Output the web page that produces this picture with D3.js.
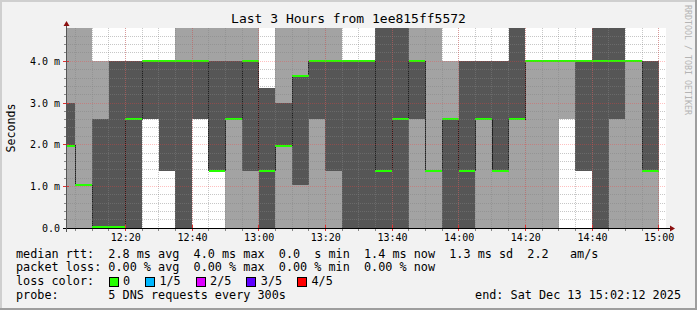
<!DOCTYPE html>
<html>
<head>
<meta charset="utf-8">
<script src="https://cdn.jsdelivr.net/npm/d3@7"></script>
<style>
body { margin: 0; background: #f2f2f2; }
svg text { font-family: "DejaVu Sans Mono", monospace; white-space: pre; }
</style>
</head>
<body>
<svg id="chart" width="697" height="310"></svg>
<script>
"use strict";

// 5 minute slots (start time) and the 5 sorted DNS ping times per slot, in ms
const slots = ["12:00", "12:05", "12:10", "12:15", "12:20", "12:25", "12:30", "12:35", "12:40", "12:45",
	"12:50", "12:55", "13:00", "13:05", "13:10", "13:15", "13:20", "13:25", "13:30", "13:35",
	"13:40", "13:45", "13:50", "13:55", "14:00", "14:05", "14:10", "14:15", "14:20", "14:25",
	"14:30", "14:35", "14:40", "14:45", "14:50", "14:55"];
const ping1 = [0, 0, 0.02, 0.02, 0, 2.61, 1.38, 0, 2.61, 1.38, 0, 0, 0, 0, 0, 0, 0, 0, 0, 0,
	0, 0, 0, 0, 0, 0, 0, 0, 0, 0, 2.61, 1.38, 0, 0, 0, 0];
const ping2 = [1.97, 1.03, 0.02, 0.02, 0, 2.61, 1.38, 0, 2.61, 1.38, 2.61, 1.38, 0, 1.97, 1.03, 2.61, 1.38, 0, 0, 0,
	0, 2.61, 1.38, 0, 0, 2.61, 1.38, 2.61, 4.0, 4.0, 4.0, 1.38, 0, 2.61, 4.0, 1.38];
const ping3 = [1.97, 1.03, 0.03, 0.03, 2.61, 4.0, 4.0, 4.0, 4.0, 1.38, 2.61, 4.0, 1.38, 1.97, 3.65, 4.0, 4.0, 4.0, 4.0, 1.38,
	2.61, 4.0, 1.38, 2.61, 1.38, 2.61, 1.38, 2.61, 4.0, 4.0, 4.0, 4.0, 4.0, 4.0, 4.0, 1.38];
const ping4 = [3.0, 1.03, 2.61, 4.0, 4.0, 4.0, 4.0, 4.0, 4.0, 4.0, 4.0, 4.0, 3.35, 3.0, 3.65, 4.0, 4.0, 4.0, 4.0, 6.0,
	6.0, 4.0, 1.38, 2.61, 4.0, 4.0, 4.0, 6.0, 4.0, 4.0, 4.0, 4.0, 6.0, 6.0, 4.0, 4.0];
const ping5 = [6.0, 6.0, 4.0, 4.0, 4.0, 4.0, 4.0, 6.0, 6.0, 6.0, 6.0, 6.0, 3.35, 6.0, 6.0, 6.0, 6.0, 4.0, 4.0, 6.0,
	6.0, 6.0, 6.0, 4.0, 4.0, 4.0, 4.0, 6.0, 4.0, 4.0, 4.0, 4.0, 6.0, 6.0, 4.0, 4.0];

const viewStart = "12:02:12";
const viewEnd = "15:02:12";
const yMax = 4.8;
const timeTicks = ["12:20", "12:40", "13:00", "13:20", "13:40", "14:00", "14:20", "14:40", "15:00"];
const valueTicks = [0, 1, 2, 3, 4];
const valueLabels = ["0.0", "1.0 m", "2.0 m", "3.0 m", "4.0 m"];

const lossLabels = ["0", "1/5", "2/5", "3/5", "4/5"];
const lossColors = ["#26ff00", "#00b8ff", "#dd00ff", "#5e00ff", "#ff0000"];

const legendRows = [
	"median rtt:  2.8 ms avg  4.0 ms max  0.0  s min  1.4 ms now  1.3 ms sd  2.2   am/s",
	"packet loss: 0.00 % avg  0.00 % max  0.00 % min  0.00 % now",
	"loss color:",
	"probe:       5 DNS requests every 300s"
];
const endLabel = "end: Sat Dec 13 15:02:12 2025";

// colours
const lightSmoke = "#a3a3a3";
const darkSmoke = "#565656";
const minorGrid = "rgba(130,130,130,0.45)";
const majorGrid = "rgba(255,60,60,0.32)";

const svg = d3.select("#chart");
const W = 697, H = 310;
const plot = {left: 66, right: 666, top: 28, bottom: 228};

const parseHMS = d3.timeParse("%H:%M:%S");
const parseHM = d3.timeParse("%H:%M");

const x = d3.scaleTime()
	.domain([parseHMS(viewStart), parseHMS(viewEnd)])
	.range([plot.left, plot.right]);
const y = d3.scaleLinear()
	.domain([0, yMax])
	.range([plot.bottom, plot.top]);

const rows = slots.map((s, i) => {
	const t0 = parseHM(s);
	return {t0, t1: d3.timeMinute.offset(t0, 5), p: [ping1[i], ping2[i], ping3[i], ping4[i], ping5[i]]};
});

// background + 3d border
svg.append("rect").attr("width", W).attr("height", H).attr("fill", "#f2f2f2");
svg.append("rect").attr("x", 0).attr("y", 0).attr("width", W).attr("height", 2).attr("fill", "#cfcfcf");
svg.append("rect").attr("x", 0).attr("y", 0).attr("width", 2).attr("height", H).attr("fill", "#cfcfcf");
svg.append("rect").attr("x", 0).attr("y", H - 2).attr("width", W).attr("height", 2).attr("fill", "#9e9e9e");
svg.append("rect").attr("x", W - 2).attr("y", 0).attr("width", 2).attr("height", H).attr("fill", "#9e9e9e");

svg.append("rect")
	.attr("x", plot.left).attr("y", plot.top)
	.attr("width", plot.right - plot.left).attr("height", plot.bottom - plot.top)
	.attr("fill", "#fff");

svg.append("clipPath").attr("id", "clip")
	.append("rect")
	.attr("x", plot.left).attr("y", plot.top)
	.attr("width", plot.right - plot.left).attr("height", plot.bottom - plot.top);

const g = svg.append("g").attr("clip-path", "url(#clip)");

// smoke: outer bands light, inner bands dark
const bands = [0, 1, 2, 3];
bands.forEach(k => {
	const color = (k === 0 || k === 3) ? lightSmoke : darkSmoke;
	g.append("g")
		.selectAll("rect")
		.data(rows.filter(r => r.p[k + 1] > r.p[k]))
		.enter()
		.append("rect")
		.attr("x", d => x(d.t0))
		.attr("width", d => x(d.t1) - x(d.t0))
		.attr("y", d => y(d.p[k + 1]))
		.attr("height", d => y(d.p[k]) - y(d.p[k + 1]))
		.attr("fill", color)
		.attr("shape-rendering", "crispEdges");
});

// grid (drawn over the smoke, like rrdtool)
const grid = svg.append("g").attr("shape-rendering", "crispEdges");
const minorTimes = d3.timeMinute.every(5).range(...x.domain());
const majorTimes = timeTicks.map(parseHM);
const minorValues = d3.range(1, 24).map(i => i * 0.2).filter(v => Math.abs(v - Math.round(v)) > 0.01);

grid.selectAll(".vmin").data(minorTimes).enter().append("line")
	.attr("x1", d => Math.floor(x(d)) + 0.5).attr("x2", d => Math.floor(x(d)) + 0.5)
	.attr("y1", plot.top).attr("y2", plot.bottom)
	.attr("stroke", minorGrid).attr("stroke-dasharray", "1,1");
grid.selectAll(".hmin").data(minorValues).enter().append("line")
	.attr("x1", plot.left).attr("x2", plot.right)
	.attr("y1", d => Math.floor(y(d)) + 0.5).attr("y2", d => Math.floor(y(d)) + 0.5)
	.attr("stroke", minorGrid).attr("stroke-dasharray", "1,1");
grid.selectAll(".vmaj").data(majorTimes).enter().append("line")
	.attr("x1", d => Math.floor(x(d)) + 0.5).attr("x2", d => Math.floor(x(d)) + 0.5)
	.attr("y1", plot.top).attr("y2", plot.bottom)
	.attr("stroke", majorGrid).attr("stroke-dasharray", "1,1");
grid.selectAll(".hmaj").data(valueTicks.slice(1)).enter().append("line")
	.attr("x1", plot.left).attr("x2", plot.right)
	.attr("y1", d => Math.floor(y(d)) + 0.5).attr("y2", d => Math.floor(y(d)) + 0.5)
	.attr("stroke", majorGrid).attr("stroke-dasharray", "1,1");

// median: thin dark step line, then green loss-colour band
const medianPts = rows.map(r => [r.t0, r.p[2]]);
medianPts.push([rows[rows.length - 1].t1, rows[rows.length - 1].p[2]]);
g.append("path")
	.datum(medianPts)
	.attr("d", d3.line().x(d => x(d[0])).y(d => y(d[1])).curve(d3.curveStepAfter))
	.attr("fill", "none")
	.attr("stroke", "#202020")
	.attr("stroke-width", 1)
	.attr("shape-rendering", "crispEdges");

const swidth = yMax / (plot.bottom - plot.top);
g.append("g")
	.selectAll("rect")
	.data(rows)
	.enter()
	.append("rect")
	.attr("x", d => x(d.t0))
	.attr("width", d => x(d.t1) - x(d.t0))
	.attr("y", d => y(d.p[2] + swidth))
	.attr("height", d => y(d.p[2] - swidth) - y(d.p[2] + swidth))
	.attr("fill", lossColors[0])
	.attr("shape-rendering", "crispEdges");

// axis ticks
const ticks = svg.append("g").attr("shape-rendering", "crispEdges");
ticks.selectAll(".xt").data(minorTimes).enter().append("line")
	.attr("x1", d => Math.floor(x(d)) + 0.5).attr("x2", d => Math.floor(x(d)) + 0.5)
	.attr("y1", plot.bottom + 0.5).attr("y2", plot.bottom + 3)
	.attr("stroke", "#888");
ticks.selectAll(".xT").data(majorTimes).enter().append("line")
	.attr("x1", d => Math.floor(x(d)) + 0.5).attr("x2", d => Math.floor(x(d)) + 0.5)
	.attr("y1", plot.bottom - 3).attr("y2", plot.bottom + 3)
	.attr("stroke", "#e03030");
ticks.selectAll(".yt").data(minorValues).enter().append("line")
	.attr("x1", plot.left - 2).attr("x2", plot.left)
	.attr("y1", d => Math.floor(y(d)) + 0.5).attr("y2", d => Math.floor(y(d)) + 0.5)
	.attr("stroke", "#888");
ticks.selectAll(".yT").data(valueTicks.slice(1)).enter().append("line")
	.attr("x1", plot.left - 3).attr("x2", plot.left + 3)
	.attr("y1", d => Math.floor(y(d)) + 0.5).attr("y2", d => Math.floor(y(d)) + 0.5)
	.attr("stroke", "#e03030");

// axis lines + arrows
svg.append("line")
	.attr("x1", plot.left - 3).attr("x2", plot.right + 4)
	.attr("y1", plot.bottom + 0.5).attr("y2", plot.bottom + 0.5)
	.attr("stroke", "#000").attr("shape-rendering", "crispEdges");
svg.append("line")
	.attr("x1", plot.left + 0.5).attr("x2", plot.left + 0.5)
	.attr("y1", plot.bottom + 4).attr("y2", plot.top - 3)
	.attr("stroke", "#555").attr("shape-rendering", "crispEdges");
svg.append("path")
	.attr("d", `M${plot.left + 0.5},${plot.top - 7} l-3,5 h6 z`)
	.attr("fill", "#8b1010");
svg.append("path")
	.attr("d", `M${plot.right + 9},${plot.bottom + 0.5} l-5,-3 v6 z`)
	.attr("fill", "#8b1010");

// axis labels via d3 axes
const xAxis = svg.append("g")
	.attr("transform", `translate(0,${plot.bottom})`)
	.call(d3.axisBottom(x).tickValues(majorTimes).tickFormat(d3.timeFormat("%H:%M")).tickSize(0).tickPadding(6));
const yAxis = svg.append("g")
	.attr("transform", `translate(${plot.left},0)`)
	.call(d3.axisLeft(y).tickValues(valueTicks).tickFormat((d, i) => valueLabels[i]).tickSize(0).tickPadding(6));
[xAxis, yAxis].forEach(a => {
	a.select(".domain").remove();
	a.selectAll("text")
		.attr("fill", "#000")
		.style("font-family", "DejaVu Sans Mono, monospace")
		.style("font-size", "10px");
});

// title and side texts
svg.append("text")
	.attr("x", W / 2).attr("y", 23)
	.attr("text-anchor", "middle")
	.style("font-size", "13px")
	.text("Last 3 Hours from 1ee815ff5572");

svg.append("text")
	.attr("transform", `translate(15,${(plot.top + plot.bottom) / 2}) rotate(-90)`)
	.attr("text-anchor", "middle")
	.style("font-size", "11.6px")
	.text("Seconds");

svg.append("text")
	.attr("transform", `translate(685,5) rotate(90)`)
	.attr("fill", "#b4b4b4")
	.style("font-size", "8.3px")
	.text("RRDTOOL / TOBI OETIKER");

// legend
const legendY = [257.5, 271, 285, 298.5];
svg.append("g")
	.selectAll("text")
	.data(legendRows)
	.enter()
	.append("text")
	.attr("x", 16)
	.attr("y", (d, i) => legendY[i])
	.style("font-size", "11.8px")
	.text(d => d);

svg.append("text")
	.attr("x", 681).attr("y", legendY[3])
	.attr("text-anchor", "end")
	.style("font-size", "11.8px")
	.text(endLabel);

let lx = 108.5;
lossLabels.forEach((lab, i) => {
	svg.append("rect")
		.attr("x", Math.round(lx) + 0.5).attr("y", 277.5)
		.attr("width", 9).attr("height", 9)
		.attr("fill", lossColors[i])
		.attr("stroke", "#000")
		.attr("shape-rendering", "crispEdges");
	svg.append("text")
		.attr("x", lx + 14.4).attr("y", legendY[2])
		.style("font-size", "11.8px")
		.text(lab);
	lx += 14.4 + lab.length * 7.1 + 15;
});
</script>
</body>
</html>
